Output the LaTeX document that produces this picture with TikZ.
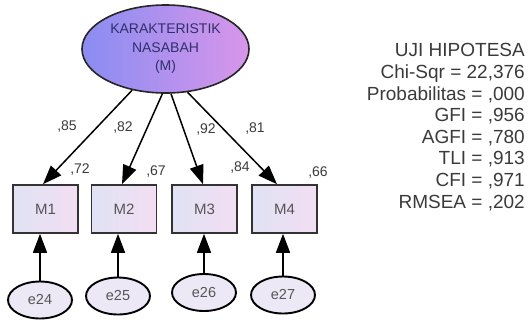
\documentclass[tikz,border=0pt]{standalone}
\usepackage{fontspec}
\setmainfont{Liberation Sans}
\usetikzlibrary{shapes.geometric,arrows.meta,calc}

\definecolor{latentL}{HTML}{8A8CF2}
\definecolor{latentR}{HTML}{D896EA}
\definecolor{latentTxt}{HTML}{30306A}
\definecolor{boxL}{HTML}{E0E2F4}
\definecolor{boxR}{HTML}{F3DEF2}
\definecolor{errFill}{HTML}{EDE8F6}
\definecolor{labelTxt}{HTML}{3A3A3A}
\definecolor{itemTxt}{HTML}{555555}

\begin{document}
\begin{tikzpicture}[x=1pt,y=-1pt,
  latent/.style={ellipse, draw=black!85, line width=1.6pt, inner sep=0pt,
    minimum width=167pt, minimum height=88pt,
    left color=latentL, right color=latentR,
    align=center, text=latentTxt, font=\fontsize{14}{18.5}\selectfont},
  indicator/.style={rectangle, draw=black!80, line width=1.6pt, inner sep=0pt,
    minimum width=65pt, minimum height=48pt,
    left color=boxL, right color=boxR,
    text=itemTxt, font=\fontsize{15}{18}\selectfont},
  errterm/.style={ellipse, draw=black, line width=1.9pt, inner sep=0pt,
    minimum width=64pt, minimum height=37pt, fill=errFill,
    text=itemTxt, font=\fontsize{14.5}{17}\selectfont},
  loading/.style={text=labelTxt, font=\fontsize{14}{16}\selectfont, inner sep=0pt},
  path/.style={line width=1.5pt, draw=black,
    -{Triangle[length=19pt,width=14pt]}},
  fitinfo/.style={text=labelTxt, align=right, inner sep=0pt,
    font=\fontsize{19}{21.6}\selectfont}
]
\useasboundingbox (0,0) rectangle (530,322);

% latent construct
\node[latent] (M) at (165.5,49) {KARAKTERISTIK\\NASABAH\\(M)};

% observed indicators
\node[indicator] (M1) at (45.5,209) {M1};
\node[indicator] (M2) at (124,209) {M2};
\node[indicator] (M3) at (204.5,209) {M3};
\node[indicator] (M4) at (284.5,209) {M4};

% error terms
\node[errterm] (e24) at (40,300) {e24};
\node[errterm] (e25) at (118,296) {e25};
\node[errterm] (e26) at (204,292.5) {e26};
\node[errterm] (e27) at (283,295) {e27};

% end points of the loading paths on the indicator tops
\coordinate (t1) at ($(M1.north)+(-2.5,0)$);
\coordinate (t2) at ($(M2.north)+(-2,0)$);
\coordinate (t3) at ($(M3.north)+(-1.5,0)$);
\coordinate (t4) at ($(M4.north)+(-7.5,0)$);

% loading paths
\draw[path] (M.231) -- (t1);
\draw[path] (M.266) -- (t2);
\draw[path] (M.277) -- (t3);
\draw[path] (M.297) -- (t4);

% error paths
\draw[path] (e24.north) -- (e24.north |- M1.south);
\draw[path] (e25.north) -- (e25.north |- M2.south);
\draw[path] (e26.north) -- (e26.north |- M3.south);
\draw[path] (e27.north) -- (e27.north |- M4.south);

% standardized loadings
\node[loading] (l1) at (67,127) {,85};
\node[loading] (l2) at (123,128) {,82};
\node[loading] (l3) at (206,130) {,92};
\node[loading] (l4) at (255,129) {,81};

% squared multiple correlations
\node[loading] (r1) at (80,170) {,72};
\node[loading] (r2) at (156,172) {,67};
\node[loading] (r3) at (240,168) {,84};
\node[loading] (r4) at (318,173) {,66};

% goodness-of-fit summary
\node[fitinfo, anchor=north east] (fit) at (525,43.5)
  {UJI HIPOTESA\\Chi-Sqr = 22,376\\Probabilitas = ,000\\GFI = ,956\\AGFI = ,780\\TLI = ,913\\CFI = ,971\\RMSEA = ,202};
\end{tikzpicture}
\end{document}
